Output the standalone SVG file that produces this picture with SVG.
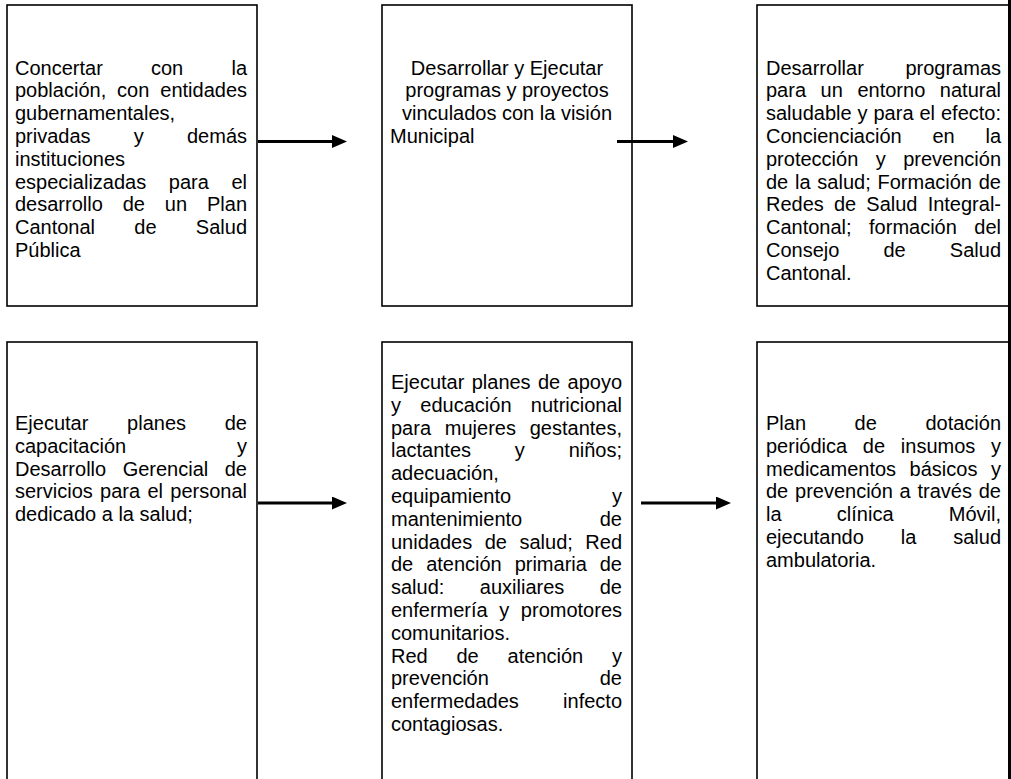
<svg xmlns="http://www.w3.org/2000/svg" width="1011" height="779" viewBox="0 0 1011 779">
  <style>
    .box { fill: #fff; stroke: #000; stroke-width: 1.6; }
    .t { font-family: "Liberation Sans", Arial, Helvetica, sans-serif; font-size: 20px; fill: #000; }
    .c { text-anchor: middle; }
    .conn { stroke: #000; stroke-width: 3; fill: none; marker-end: url(#head); }
    .edge { stroke: #000; stroke-width: 3; }
  </style>
  <defs>
    <marker id="head" viewBox="0 0 15 13" refX="1" refY="6.5" markerWidth="15" markerHeight="13" markerUnits="userSpaceOnUse" orient="auto">
      <path d="M0,0 L15,6.5 L0,13 Z" fill="#000"/>
    </marker>
  </defs>
  <rect width="1011" height="779" fill="#fff"/>

  <!-- top row -->
  <g id="n1">
    <rect class="box" x="7" y="5" width="250" height="301"/>
    <text class="t">
      <tspan x="15" y="74.5">Concertar</tspan><tspan x="151" y="74.5">con</tspan><tspan x="231.44" y="74.5">la</tspan>
      <tspan x="15" y="97.3">población,</tspan><tspan x="117.1" y="97.3">con</tspan><tspan x="160.28" y="97.3">entidades</tspan>
      <tspan x="15" y="120.1">gubernamentales,</tspan>
      <tspan x="15" y="142.9">privadas</tspan><tspan x="133.78" y="142.9">y</tspan><tspan x="186.98" y="142.9">demás</tspan>
      <tspan x="15" y="165.7">instituciones</tspan>
      <tspan x="15" y="188.5">especializadas</tspan><tspan x="168.79" y="188.5">para</tspan><tspan x="231.44" y="188.5">el</tspan>
      <tspan x="15" y="211.3">desarrollo</tspan><tspan x="122.7" y="211.3">de</tspan><tspan x="164.84" y="211.3">un</tspan><tspan x="206.98" y="211.3">Plan</tspan>
      <tspan x="15" y="234.1">Cantonal</tspan><tspan x="134.33" y="234.1">de</tspan><tspan x="195.86" y="234.1">Salud</tspan>
      <tspan x="15" y="256.9">Pública</tspan>
    </text>
  </g>

  <g id="n2">
    <rect class="box" x="382" y="5" width="250" height="301"/>
    <text class="t c" x="507" y="74.5">Desarrollar y Ejecutar</text>
    <text class="t c" x="507" y="97.3">programas y proyectos</text>
    <text class="t c" x="507" y="120.1">vinculados con la visión</text>
    <text class="t" x="390" y="142.9">Municipal</text>
  </g>

  <g id="n3">
    <rect class="box" x="757" y="5" width="252" height="301"/>
    <text class="t">
      <tspan x="766" y="74.5">Desarrollar</tspan><tspan x="905.42" y="74.5">programas</tspan>
      <tspan x="766" y="97.3">para</tspan><tspan x="820.61" y="97.3">un</tspan><tspan x="857.44" y="97.3">entorno</tspan><tspan x="939.86" y="97.3">natural</tspan>
      <tspan x="766" y="120.1">saludable</tspan><tspan x="857.55" y="120.1">y</tspan><tspan x="873.49" y="120.1">para</tspan><tspan x="919.46" y="120.1">el</tspan><tspan x="940.96" y="120.1">efecto:</tspan>
      <tspan x="766" y="142.9">Concienciación</tspan><tspan x="932.4" y="142.9">en</tspan><tspan x="985.44" y="142.9">la</tspan>
      <tspan x="766" y="165.7">protección</tspan><tspan x="875.72" y="165.7">y</tspan><tspan x="903.18" y="165.7">prevención</tspan>
      <tspan x="766" y="188.5">de</tspan><tspan x="795.03" y="188.5">la</tspan><tspan x="817.37" y="188.5">salud;</tspan><tspan x="877.52" y="188.5">Formación</tspan><tspan x="978.76" y="188.5">de</tspan>
      <tspan x="766" y="211.3">Redes</tspan><tspan x="833.95" y="211.3">de</tspan><tspan x="866.34" y="211.3">Salud</tspan><tspan x="927.64" y="211.3">Integral-</tspan>
      <tspan x="766" y="234.1">Cantonal;</tspan><tspan x="869.06" y="234.1">formación</tspan><tspan x="974.32" y="234.1">del</tspan>
      <tspan x="766" y="256.9">Consejo</tspan><tspan x="883.49" y="256.9">de</tspan><tspan x="949.86" y="256.9">Salud</tspan>
      <tspan x="766" y="279.7">Cantonal.</tspan>
    </text>
  </g>

  <!-- bottom row -->
  <g id="n4">
    <rect class="box" x="7" y="342" width="250" height="460"/>
    <text class="t">
      <tspan x="15" y="430">Ejecutar</tspan><tspan x="127.1" y="430">planes</tspan><tspan x="224.76" y="430">de</tspan>
      <tspan x="15" y="452.8">capacitación</tspan><tspan x="237" y="452.8">y</tspan>
      <tspan x="15" y="475.6">Desarrollo</tspan><tspan x="122.65" y="475.6">Gerencial</tspan><tspan x="224.76" y="475.6">de</tspan>
      <tspan x="15" y="498.4">servicios</tspan><tspan x="100.09" y="498.4">para</tspan><tspan x="147.42" y="498.4">el</tspan><tspan x="170.3" y="498.4">personal</tspan>
      <tspan x="15" y="521.2">dedicado a la salud;</tspan>
    </text>
  </g>

  <g id="n5">
    <rect class="box" x="382" y="342" width="250" height="460"/>
    <text class="t">
      <tspan x="391" y="389">Ejecutar</tspan><tspan x="471.69" y="389">planes</tspan><tspan x="537.94" y="389">de</tspan><tspan x="567.52" y="389">apoyo</tspan>
      <tspan x="391" y="411.8">y</tspan><tspan x="420.35" y="411.8">educación</tspan><tspan x="530.86" y="411.8">nutricional</tspan>
      <tspan x="391" y="434.6">para</tspan><tspan x="444.81" y="434.6">mujeres</tspan><tspan x="529.72" y="434.6">gestantes,</tspan>
      <tspan x="391" y="457.4">lactantes</tspan><tspan x="514.84" y="457.4">y</tspan><tspan x="568.64" y="457.4">niños;</tspan>
      <tspan x="391" y="480.2">adecuación,</tspan>
      <tspan x="391" y="503">equipamiento</tspan><tspan x="612" y="503">y</tspan>
      <tspan x="391" y="525.8">mantenimiento</tspan><tspan x="599.76" y="525.8">de</tspan>
      <tspan x="391" y="548.6">unidades</tspan><tspan x="484.68" y="548.6">de</tspan><tspan x="519.44" y="548.6">salud;</tspan><tspan x="585.32" y="548.6">Red</tspan>
      <tspan x="391" y="571.4">de</tspan><tspan x="426.14" y="571.4">atención</tspan><tspan x="514.64" y="571.4">primaria</tspan><tspan x="599.76" y="571.4">de</tspan>
      <tspan x="391" y="594.2">salud:</tspan><tspan x="479.83" y="594.2">auxiliares</tspan><tspan x="599.76" y="594.2">de</tspan>
      <tspan x="391" y="617">enfermería</tspan><tspan x="499.28" y="617">y</tspan><tspan x="520.86" y="617">promotores</tspan>
      <tspan x="391" y="639.8">comunitarios.</tspan>
      <tspan x="391" y="662.6">Red</tspan><tspan x="456.51" y="662.6">de</tspan><tspan x="507.58" y="662.6">atención</tspan><tspan x="612" y="662.6">y</tspan>
      <tspan x="391" y="685.4">prevención</tspan><tspan x="599.76" y="685.4">de</tspan>
      <tspan x="391" y="708.2">enfermedades</tspan><tspan x="563.08" y="708.2">infecto</tspan>
      <tspan x="391" y="731">contagiosas.</tspan>
    </text>
  </g>

  <g id="n6">
    <rect class="box" x="757" y="342" width="252" height="460"/>
    <text class="t">
      <tspan x="766" y="430">Plan</tspan><tspan x="854.59" y="430">de</tspan><tspan x="925.4" y="430">dotación</tspan>
      <tspan x="766" y="452.8">periódica</tspan><tspan x="862.86" y="452.8">de</tspan><tspan x="900.82" y="452.8">insumos</tspan><tspan x="991" y="452.8">y</tspan>
      <tspan x="766" y="475.6">medicamentos</tspan><tspan x="909.62" y="475.6">básicos</tspan><tspan x="991" y="475.6">y</tspan>
      <tspan x="766" y="498.4">de</tspan><tspan x="795.02" y="498.4">prevención</tspan><tspan x="899.62" y="498.4">a</tspan><tspan x="917.52" y="498.4">través</tspan><tspan x="978.76" y="498.4">de</tspan>
      <tspan x="766" y="521.2">la</tspan><tspan x="836.83" y="521.2">clínica</tspan><tspan x="948.78" y="521.2">Móvil,</tspan>
      <tspan x="766" y="544">ejecutando</tspan><tspan x="900.74" y="544">la</tspan><tspan x="953.2" y="544">salud</tspan>
      <tspan x="766" y="566.8">ambulatoria.</tspan>
    </text>
  </g>

  <!-- right page edge -->
  <line class="edge" x1="1009.5" y1="0" x2="1009.5" y2="779"/>

  <!-- connectors -->
  <g id="connectors">
    <line class="conn" x1="258" y1="141.5" x2="333" y2="141.5"/>
    <line class="conn" x1="617" y1="141.5" x2="674" y2="141.5"/>
    <line class="conn" x1="258" y1="503" x2="333" y2="503"/>
    <line class="conn" x1="641" y1="503" x2="717" y2="503"/>
  </g>
</svg>
